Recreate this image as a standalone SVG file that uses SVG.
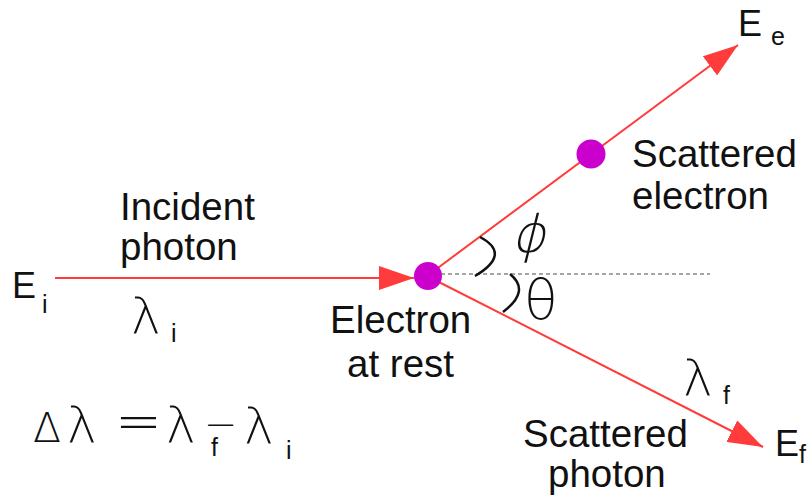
<svg xmlns="http://www.w3.org/2000/svg" width="811" height="497" viewBox="0 0 811 497">
<style>
.t{font-family:"Liberation Sans",Arial,sans-serif;font-size:38.5px;fill:#111}
.e{font-family:"Liberation Sans",Arial,sans-serif;font-size:36px;fill:#111}
.s{font-family:"Liberation Sans",Arial,sans-serif;font-size:25px;fill:#111}
.g{font-family:"DejaVu Sans",sans-serif;font-weight:200;fill:#111}
.ray{stroke:#ff3b3b;stroke-width:2;fill:none}
.dot{fill:#cc00cc}
.arc{stroke:#111;stroke-width:2.5;fill:none}
</style>
<defs>
<marker id="ah" markerUnits="userSpaceOnUse" viewBox="0 0 35 24" refX="35" refY="12" markerWidth="35" markerHeight="24" orient="auto">
<path d="M0,0 L35,12 L0,24 z" fill="#ff3b3b"/>
</marker>
</defs>
<g id="connectors">
<line class="ray" x1="55" y1="278" x2="414" y2="278" marker-end="url(#ah)"/>
<line class="ray" x1="427" y1="276" x2="738" y2="45" marker-end="url(#ah)"/>
<line class="ray" x1="427" y1="276" x2="763" y2="447" marker-end="url(#ah)"/>
<line x1="441" y1="274" x2="710" y2="274" stroke="#888" stroke-width="1.5" stroke-dasharray="4 3"/>
<path class="arc" d="M480,237 Q512,254 475,276"/>
<path class="arc" d="M510,274 Q531,291 503,312"/>
</g>
<g id="electron-rest">
<circle class="dot" cx="428" cy="276" r="14"/>
<text class="t" x="330" y="333">Electron</text>
<text class="t" x="347" y="377">at rest</text>
</g>
<g id="scattered-electron">
<circle class="dot" cx="591" cy="154" r="14.5"/>
<text class="t" x="632" y="167">Scattered</text>
<text class="t" x="632" y="209">electron</text>
</g>
<g id="incident">
<text class="t" x="120" y="220">Incident</text>
<text class="t" x="120" y="260">photon</text>
<text class="e" x="12" y="298">E</text>
<text class="s" x="42" y="313">i</text>
<text class="g" x="131" y="333" font-size="50">λ</text>
<text class="s" x="171" y="342">i</text>
</g>
<g id="scattered-photon">
<text class="t" x="523" y="447">Scattered</text>
<text class="t" x="548" y="487">photon</text>
<text class="g" x="683" y="395" font-size="50">λ</text>
<text class="s" x="723" y="404">f</text>
<text class="e" x="775" y="456">E</text>
<text class="s" x="799" y="463">f</text>
</g>
<g id="electron-out">
<text class="e" x="738" y="36">E</text>
<text class="s" x="771" y="45">e</text>
</g>
<g id="angles">
<text class="g" transform="translate(526,252) skewX(-14)" x="-15" y="0" font-size="52">ϕ</text>
<text class="g" x="524" y="319" font-size="55">θ</text>
</g>
<g id="formula">
<text class="g" x="33" y="442" font-size="41">Δ</text>
<text class="g" x="67" y="442" font-size="50">λ</text>
<text class="g" x="115" y="440" font-size="56">=</text>
<text class="g" x="166" y="442" font-size="50">λ</text>
<text class="g" x="204" y="438" font-size="40">−</text>
<text class="s" x="211" y="456">f</text>
<text class="g" x="244" y="443" font-size="50">λ</text>
<text class="s" x="286" y="459">i</text>
</g>
</svg>
